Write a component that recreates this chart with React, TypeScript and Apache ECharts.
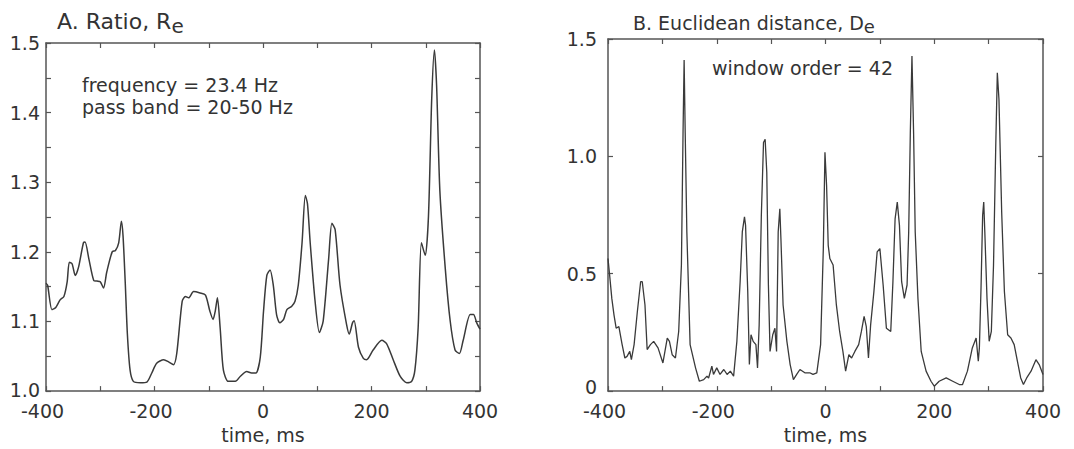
import React, { useEffect, useRef } from "react";
import * as echarts from "echarts";

// Panel A: ratio R_e vs time (ms)
const timeA = [-400,-397,-389,-382,-374,-367,-361,-357,-352,-346,-340,-331,-328,-321,-312,-306,-300,-294,-288,-278,-272,-266,-261,-258,-254,-250,-245,-239,-226,-214,-205,-196,-183,-174,-165,-159,-149,-143,-137,-128,-116,-106,-98,-92,-88,-84,-79,-73,-64,-51,-42,-30,-21,-13,-5,1,7,13,19,25,31,38,44,53,59,65,72,78,82,87,96,104,111,121,127,133,142,154,159,165,168,176,185,191,203,219,228,240,253,265,274,280,286,292,299,305,311,316,320,326,336,345,354,362,369,382,388,394,400];
const ratioA = [1.155,1.152,1.117,1.12,1.131,1.136,1.157,1.185,1.183,1.166,1.178,1.213,1.214,1.19,1.159,1.158,1.157,1.148,1.171,1.2,1.202,1.213,1.244,1.223,1.157,1.082,1.03,1.014,1.012,1.013,1.026,1.04,1.045,1.042,1.038,1.054,1.129,1.136,1.134,1.143,1.141,1.138,1.115,1.103,1.115,1.134,1.091,1.03,1.014,1.014,1.021,1.028,1.026,1.026,1.049,1.115,1.166,1.174,1.152,1.11,1.098,1.103,1.117,1.122,1.129,1.152,1.213,1.281,1.269,1.213,1.129,1.084,1.101,1.19,1.241,1.232,1.152,1.096,1.082,1.098,1.101,1.063,1.047,1.045,1.059,1.073,1.068,1.045,1.021,1.012,1.014,1.03,1.091,1.213,1.195,1.251,1.42,1.49,1.439,1.288,1.176,1.101,1.059,1.054,1.073,1.11,1.11,1.098,1.089];

// Panel B: Euclidean distance D_e vs time (ms)
const timeB = [-400,-397,-393,-389,-385,-380,-374,-369,-365,-360,-357,-352,-346,-340,-337,-332,-328,-322,-316,-308,-299,-291,-287,-282,-276,-270,-265,-262,-260,-258,-255,-249,-239,-232,-224,-218,-215,-209,-206,-200,-194,-187,-181,-175,-169,-163,-157,-153,-149,-147,-143,-140,-137,-133,-128,-125,-122,-118,-114,-111,-108,-105,-102,-97,-93,-90,-87,-84,-82,-78,-71,-65,-59,-53,-47,-38,-29,-23,-16,-9,-4,-1,2,5,8,14,20,26,32,37,43,48,54,61,66,71,75,79,83,89,95,100,106,112,120,124,128,132,136,140,145,150,153,156,159,162,165,170,176,185,194,200,209,222,234,246,252,261,270,277,281,283,286,289,291,293,297,301,305,309,313,316,319,324,329,335,341,347,353,359,364,370,378,387,393,400];
const distB = [0.565,0.494,0.395,0.325,0.268,0.275,0.198,0.141,0.148,0.169,0.134,0.198,0.339,0.466,0.466,0.367,0.177,0.198,0.212,0.184,0.12,0.226,0.212,0.155,0.141,0.254,0.537,1.1,1.41,1.1,0.678,0.198,0.099,0.042,0.049,0.064,0.056,0.106,0.071,0.099,0.071,0.092,0.071,0.085,0.064,0.212,0.466,0.678,0.742,0.706,0.424,0.113,0.24,0.212,0.198,0.099,0.282,0.749,1.059,1.073,0.932,0.452,0.169,0.24,0.268,0.169,0.678,0.777,0.65,0.367,0.212,0.113,0.049,0.071,0.092,0.078,0.078,0.071,0.078,0.198,0.607,1.017,0.876,0.621,0.565,0.537,0.367,0.254,0.169,0.085,0.155,0.141,0.169,0.198,0.254,0.318,0.275,0.141,0.282,0.424,0.593,0.607,0.452,0.268,0.254,0.466,0.734,0.805,0.706,0.466,0.395,0.452,0.678,1.102,1.427,1.102,0.678,0.395,0.169,0.085,0.042,0.021,0.042,0.056,0.042,0.028,0.028,0.085,0.184,0.226,0.127,0.184,0.438,0.749,0.805,0.678,0.395,0.212,0.254,0.537,1.031,1.356,1.243,0.763,0.424,0.24,0.226,0.198,0.127,0.056,0.028,0.056,0.085,0.134,0.113,0.071];

const titleA = "A. Ratio, R";
const titleB = "B. Euclidean distance, D";
const subscript = "e";
const notesA = ["frequency = 23.4 Hz", "pass band = 20-50 Hz"];
const noteB = "window order = 42";
const axisName = "time, ms";

const FONT = "DejaVu Sans";
const TXT = "#333";
const AX = "#555";
const LINE = "#3a3a3a";

function zip(xs: number[], ys: number[]) {
  const n = Math.min(xs.length, ys.length);
  const out: number[][] = [];
  for (let i = 0; i < n; i++) out.push([xs[i], ys[i]]);
  return out;
}

function measure(text: string, size: number) {
  const c = document.createElement("canvas").getContext("2d");
  if (!c) return text.length * size * 0.6;
  c.font = `${size}px "${FONT}"`;
  return c.measureText(text).width;
}

const labelStyle = { fontSize: 19, fontFamily: FONT, color: TXT };

function xAxes(gridIndex: number) {
  const axisLine = { show: true, onZero: false, lineStyle: { color: AX, width: 1.5 } };
  const tick = { show: true, inside: true, length: 5, lineStyle: { color: AX, width: 1.2 } };
  const minor = { show: true, splitNumber: 2, length: 5, lineStyle: { color: AX, width: 1.2 } };
  return [
    {
      type: "value", gridIndex, min: -400, max: 400, interval: 200, position: "bottom",
      axisLine, axisTick: tick, minorTick: minor, splitLine: { show: false },
      axisLabel: {
        margin: 10,
        formatter: (v: number) => (v < 0 ? `{n|${v}}` : `{p|${v}}`),
        rich: { n: { ...labelStyle, padding: [0, 7, 0, 0] }, p: { ...labelStyle } },
        ...labelStyle,
      },
      name: axisName, nameLocation: "middle", nameGap: gridIndex === 0 ? 29 : 28,
      nameTextStyle: { fontSize: 19, fontFamily: FONT, color: TXT },
    },
    {
      type: "value", gridIndex, min: -400, max: 400, interval: 200, position: "top",
      axisLine, axisTick: tick, minorTick: minor, splitLine: { show: false },
      axisLabel: { show: false },
    },
  ];
}

function yAxes(gridIndex: number, min: number, max: number, interval: number, split: number, fmt: (v: number) => string, margin: number, liftMin: number) {
  const axisLine = { show: true, onZero: false, lineStyle: { color: AX, width: 1.5 } };
  const tick = { show: true, inside: true, length: 5, lineStyle: { color: AX, width: 1.2 } };
  const minor = { show: split > 1, splitNumber: split, length: 5, lineStyle: { color: AX, width: 1.2 } };
  return [
    {
      type: "value", gridIndex, min, max, interval, position: "left",
      axisLine, axisTick: tick, minorTick: minor, splitLine: { show: false },
      axisLabel: {
        formatter: (v: number) => (Math.abs(v - min) < 1e-9 ? `{m|${fmt(v)}}` : `{t|${fmt(v)}}`),
        rich: { m: { ...labelStyle, padding: [0, 0, liftMin * 2, 0] }, t: { ...labelStyle } },
        margin, ...labelStyle,
      },
    },
    {
      type: "value", gridIndex, min, max, interval, position: "right",
      axisLine, axisTick: tick, minorTick: minor, splitLine: { show: false },
      axisLabel: { show: false },
    },
  ];
}

export default function App() {
  const ref = useRef<HTMLDivElement>(null);
  useEffect(() => {
    if (!ref.current) return;
    const chart = echarts.init(ref.current, undefined, { renderer: "svg" });
    const wA = measure(titleA, 22);
    const wB = measure(titleB, 19);
    const text = (x: number, y: number, t: string, size: number) => ({
      type: "text", x, y,
      style: { text: t, fontSize: size, fontFamily: FONT, fill: TXT, verticalAlign: "middle", align: "left" },
    });
    chart.setOption({
      animation: false,
      backgroundColor: "#fff",
      grid: [
        { left: 46, top: 43, width: 434, height: 355 },
        { left: 608, top: 39, width: 435, height: 353 },
      ],
      xAxis: [...xAxes(0), ...xAxes(1)],
      yAxis: [
        ...yAxes(0, 1.0, 1.5, 0.1, 2, (v: number) => v.toFixed(1), 6, 1),
        ...yAxes(1, 0, 1.5, 0.5, 1, (v: number) => (v === 0 ? "0" : v.toFixed(1)), 11, 4),
      ],
      series: [
        {
          type: "line", xAxisIndex: 0, yAxisIndex: 0, data: zip(timeA, ratioA),
          showSymbol: false, smooth: 0.25, lineStyle: { color: LINE, width: 1.5 },
        },
        {
          type: "line", xAxisIndex: 2, yAxisIndex: 2, data: zip(timeB, distB),
          showSymbol: false, lineStyle: { color: LINE, width: 1.3 },
        },
      ],
      graphic: [
        text(57, 21.4, titleA, 22),
        text(57 + wA, 26, subscript, 20),
        text(633, 22.7, titleB, 19),
        text(633 + wB, 26.4, subscript, 18),
        text(82, 85.4, notesA[0], 19),
        text(82, 107.4, notesA[1], 19),
        text(712, 68.4, noteB, 19),
      ],
    });
    return () => chart.dispose();
  }, []);
  return (
    <div
      ref={ref}
      style={{ position: "fixed", left: 0, top: 0, width: 1074, height: 449, background: "#fff" }}
    />
  );
}
